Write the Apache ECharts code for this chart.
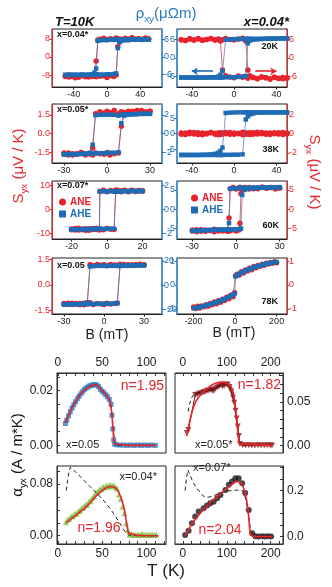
<!DOCTYPE html>
<html>
<head>
<meta charset="utf-8">
<title>ANE / AHE loops and alpha_yx(T)</title>
<script src="https://cdn.jsdelivr.net/npm/echarts@6.0.0/dist/echarts.min.js"></script>
<style>
  html, body { margin: 0; padding: 0; background: #fff; }
  #chart { width: 332px; height: 587px; }
</style>
</head>
<body>
<div id="chart"></div>
<script>
// ---------- hysteresis loops, B in mT ----------
// "down" = sweep coming from +B, "up" = sweep coming from -B
// S = Syx (uV/K, red), rho = rho_xy (uOhm m, blue)

// field grid shared by 10K x=0.04*, 20K and 38K
const field50 = [-50,-46,-42,-38,-34,-30,-26,-22,-18,-15,-13,-11,-8,-4,0,4,8,11,13,15,18,22,26,30,34,38,42,46,50];

// T=10K, x=0.04*
const rhoDownA = [-6.2,-6.2,-6.2,-6.2,-6.2,-6.2,-6.2,-6.1,-6.0,-5.4,-4.0,5.6,5.8,5.9,5.9,6.0,6.0,6.0,6.0,6.0,6.0,6.0,6.1,6.1,6.1,6.1,6.1,6.1,6.1];
const rhoUpA = [-6.2,-6.2,-6.2,-6.2,-6.2,-6.2,-6.2,-6.2,-6.2,-6.2,-6.2,-6.1,-6.1,-6.1,-6.0,-6.0,-5.9,-5.7,3.1,5.2,5.7,5.8,5.9,6.0,6.0,6.0,6.1,6.1,6.1];
const sDownA = [-8.3,-8.9,-8.1,-9.2,-8.4,-8.0,-8.8,-8.2,-8.6,-8.0,-1.8,7.5,7.9,8.3,7.6,8.1,7.7,8.4,7.8,8.0,7.5,8.2,7.9,8.5,7.7,8.1,7.8,8.3,7.9];
const sUpA = [-8.6,-8.0,-8.7,-8.3,-9.0,-8.2,-8.5,-8.9,-8.1,-8.4,-8.8,-8.0,-8.5,-8.3,-9.1,-8.2,-8.6,-8.0,4.5,6.6,7.8,8.2,7.6,8.4,7.9,8.1,7.7,8.3,8.0];

// 20K, x=0.04* (ANE sign reversed)
const rhoDownB = [-6.4,-6.4,-6.4,-6.4,-6.4,-6.4,-6.4,-6.3,-6.3,-6.1,-5.5,-4.3,6.0,6.1,6.2,6.2,6.2,6.3,6.3,6.3,6.3,6.3,6.3,6.3,6.4,6.4,6.4,6.4,6.4];
const rhoUpB = [-6.4,-6.4,-6.4,-6.4,-6.4,-6.4,-6.4,-6.4,-6.4,-6.4,-6.4,-6.4,-6.3,-6.3,-6.3,-6.2,-6.1,-5.9,4.8,5.7,6.0,6.1,6.2,6.3,6.3,6.3,6.4,6.4,6.4];
const sDownB = [6.0,5.7,6.3,5.9,6.2,5.8,6.1,6.4,5.9,6.1,5.6,-3.9,-5.8,-6.2,-6.5,-5.9,-6.3,-6.1,-6.6,-6.0,-6.4,-6.8,-6.2,-6.5,-6.9,-6.3,-6.7,-6.4,-6.6];
const sUpB = [6.0,5.7,6.2,5.9,6.4,5.8,6.1,6.3,5.9,6.2,5.8,6.0,6.4,6.1,5.9,6.2,6.5,5.6,-3.9,-5.9,-6.4,-6.7,-6.2,-6.5,-6.9,-6.3,-6.6,-6.8,-6.5];

// 10K, x=0.05*
const fieldC = [-30,-27,-24,-21,-18,-15,-12,-10,-8,-5,-2,0,2,5,8,10,12,15,18,21,24,27,30];
const rhoDownC = [-2.25,-2.2,-2.2,-2.2,-2.15,-2.15,-2.05,-1.2,1.95,2.0,2.0,2.0,2.0,2.0,1.9,2.0,2.05,2.05,2.05,2.1,2.1,2.1,2.1];
const rhoUpC = [-2.25,-2.2,-2.2,-2.2,-2.2,-2.15,-2.15,-2.15,-2.1,-2.1,-2.1,-2.1,-2.05,-2.05,-2.0,1.1,1.9,2.0,2.05,2.05,2.1,2.1,2.1];
const sDownC = [-1.55,-1.7,-1.6,-1.65,-1.5,-1.7,-1.6,-1.15,1.6,1.75,1.65,1.8,1.7,1.85,1.6,1.75,1.7,1.8,1.65,1.85,1.75,1.7,1.8];
const sUpC = [-1.65,-1.55,-1.7,-1.6,-1.5,-1.65,-1.6,-1.7,-1.55,-1.6,-1.65,-1.5,-1.7,-1.6,-1.55,0.6,1.65,1.75,1.8,1.7,1.85,1.75,1.8];

// 38K
const rhoDownD = [-6.9,-6.9,-6.9,-6.9,-6.9,-6.85,-6.8,-6.7,-6.5,-6.2,-5.6,-4.5,6.7,6.8,6.85,6.9,6.9,6.9,6.9,6.9,6.9,6.9,6.9,6.9,6.9,6.9,6.9,6.9,6.9];
const rhoUpD = [-6.9,-6.9,-6.9,-6.9,-6.9,-6.9,-6.9,-6.9,-6.9,-6.9,-6.9,-6.9,-6.85,-6.85,-6.8,-6.8,-6.7,4.6,5.6,6.2,6.5,6.8,6.85,6.9,6.9,6.9,6.9,6.9,6.9];
const sDownD = [0.05,-0.1,0.12,-0.05,0.08,-0.12,0.02,0.1,-0.08,0.04,-0.1,0.06,-0.03,0.11,-0.07,0.03,-0.12,0.09,-0.04,0.07,-0.09,0.12,-0.02,0.05,-0.11,0.08,-0.06,0.1,-0.04];
const sUpD = [-0.08,0.06,-0.03,0.11,-0.1,0.04,-0.06,0.09,0.02,-0.12,0.07,-0.04,0.1,-0.09,0.05,-0.02,0.12,-0.07,0.03,-0.1,0.08,-0.05,0.11,-0.08,0.04,-0.03,0.09,-0.11,0.06];

// 10K, x=0.07*
const fieldE = [-20,-18,-16,-14,-12,-10,-8,-6,-4.3,-4,-2,0,2,4,4.9,6,8,10,12,14,16,18,20];
const rhoDownE = [-1.65,-1.65,-1.64,-1.64,-1.63,-1.63,-1.62,-1.62,-1.6,1.48,1.49,1.5,1.5,1.5,1.5,1.5,1.51,1.51,1.51,1.52,1.52,1.52,1.52];
const rhoUpE = [-1.65,-1.65,-1.64,-1.64,-1.63,-1.63,-1.63,-1.62,-1.62,-1.62,-1.61,-1.61,-1.6,-1.6,1.48,1.5,1.5,1.51,1.51,1.52,1.52,1.52,1.52];
const sDownE = [-8.2,-8.6,-7.9,-8.5,-8.1,-8.7,-8.0,-8.4,-8.3,7.4,7.9,7.3,7.8,7.5,8.0,7.4,7.7,7.9,7.3,7.8,7.5,7.7,7.6];
const sUpE = [-8.5,-8.0,-8.6,-8.2,-8.7,-8.1,-8.4,-7.9,-8.6,-8.2,-8.5,-8.0,-8.3,-8.4,7.6,7.9,7.3,7.8,7.5,7.9,7.4,7.8,7.6];

// 60K
const fieldF = [-30,-27,-24,-21,-18,-15,-12,-9,-6,-4.8,-4,-2,0,2,2.7,3.4,4.3,6,9,12,15,18,21,24,27,30];
const rhoDownF = [-5.6,-5.5,-5.4,-5.4,-5.35,-5.3,-5.3,-5.25,-5.2,-3.6,5.3,5.4,5.45,5.5,5.5,5.5,5.5,5.55,5.55,5.6,5.6,5.6,5.6,5.65,5.65,5.7];
const rhoUpF = [-5.6,-5.55,-5.5,-5.45,-5.4,-5.4,-5.35,-5.3,-5.3,-5.25,-5.25,-5.2,-5.2,-5.15,-5.1,-5.0,3.7,5.0,5.3,5.4,5.5,5.55,5.6,5.6,5.65,5.7];
const sDownF = [-5.4,-5.8,-5.3,-5.7,-5.5,-5.2,-5.6,-5.4,-5.7,-2.3,5.3,5.6,5.2,5.5,5.7,5.3,5.4,5.6,5.2,5.5,5.3,5.7,5.4,5.6,5.3,5.5];
const sUpF = [-5.6,-5.3,-5.7,-5.4,-5.5,-5.8,-5.3,-5.6,-5.4,-5.7,-5.5,-5.3,-5.6,-5.4,-3.6,4.0,5.0,5.4,5.6,5.3,5.5,5.7,5.4,5.6,5.3,5.5];

// 10K, x=0.05
const fieldG = [-30,-27,-24,-21,-18,-15,-12.5,-10.5,-8,-5,-2,0,2,5,8,10,12,15,18,21,24,27,30];
const rhoDownG = [-16,-16,-15.8,-15.8,-15.8,-15.6,-14.5,15.5,15.8,16,16,16,16,16,16,16.2,16.2,16.2,16.4,16.4,16.4,16.5,16.5];
const rhoUpG = [-16,-16,-15.9,-15.8,-15.8,-15.8,-15.7,-15.7,-15.6,-15.6,-15.5,-15.5,-15.5,-15.4,-15.3,-15.0,15.8,16,16.2,16.3,16.4,16.5,16.5];
const sDownG = [-1.1,-1.16,-1.08,-1.14,-1.1,-1.17,-1.05,1.2,1.15,1.22,1.17,1.2,1.14,1.21,1.18,1.16,1.23,1.17,1.2,1.15,1.22,1.18,1.2];
const sUpG = [-1.14,-1.08,-1.15,-1.1,-1.17,-1.09,-1.13,-1.06,-1.15,-1.1,-1.12,-1.16,-1.08,-1.13,-1.1,-1.07,1.18,1.22,1.15,1.2,1.17,1.23,1.19];

// 78K
const fieldH = [-200,-190,-180,-170,-160,-150,-140,-130,-120,-110,-100,-90,-80,-70,-60,-50,-40,-30,-20,-10,-2,2,10,20,30,40,50,60,70,80,90,100,110,120,130,140,150,160,170,180,190,200];
const rhoH = [-0.98,-0.965,-0.95,-0.93,-0.91,-0.885,-0.86,-0.835,-0.81,-0.785,-0.76,-0.73,-0.70,-0.665,-0.63,-0.595,-0.555,-0.51,-0.465,-0.41,-0.36,0.36,0.41,0.465,0.51,0.555,0.595,0.63,0.665,0.70,0.73,0.76,0.785,0.81,0.835,0.86,0.885,0.905,0.92,0.935,0.95,0.96];
const sH = [-0.93,-0.99,-0.9,-0.97,-0.88,-0.92,-0.83,-0.9,-0.78,-0.83,-0.72,-0.79,-0.66,-0.73,-0.6,-0.65,-0.52,-0.58,-0.43,-0.5,-0.33,0.38,0.45,0.42,0.55,0.5,0.63,0.58,0.7,0.64,0.77,0.72,0.82,0.78,0.87,0.83,0.91,0.88,0.94,0.91,0.97,0.93];

// ---------- alpha_yx(T), A/(m K) ----------
// x=0.05 (blue squares)
const tempI = [8.5,10,12,14,16,18,20,22,24,26,28,30,32,34,36,38,40,42,44,46,48,50,52,54,56,58,60,61,62,63,64,66,70,74,78,82,86,90,94,98,102,106,110];
const alphaI = [0.0080,0.0092,0.0108,0.0123,0.0137,0.0149,0.0160,0.0171,0.0180,0.0189,0.0197,0.0205,0.0210,0.0214,0.0218,0.0220,0.0222,0.0222,0.0221,0.0215,0.0205,0.0198,0.0192,0.0185,0.0178,0.0168,0.0150,0.0110,0.0060,0.0020,0.0005,0.0002,0.0001,0.0001,0,0.0001,0,0.0001,0,0.0001,0,0.0001,0];
const fitTempI = [8.5,12,16,20,25,30,35,40,44,48,52,56,59,61,62,63,64,66,80,95,110];
const fitI = [0.0082,0.0110,0.0138,0.0161,0.0185,0.0203,0.0215,0.0221,0.0221,0.0208,0.0194,0.0179,0.0160,0.0115,0.0065,0.0025,0.0005,0,0,0,0];
const dashTempI = [8.5,12,16,20,25,30,35,40,45,50,55,58,60,62,64,66,80,95,110];
const dashI = [0.0085,0.0112,0.014,0.0163,0.0187,0.0204,0.0216,0.0222,0.0219,0.0203,0.0184,0.017,0.0152,0.008,0.001,0,0,0,0];

// x=0.05* (dark red triangles)
const tempJ = [9,12.5,28,33,38,43,47,51,55,59,63,67,70,74,78,82,86,90,94,98,102,106,110,114,117,120,122.5,125,127.5,130,136,143,150,157,164,171,178,185,192,199,203];
const alphaJ = [0.0145,0.018,0.058,0.0585,0.0596,0.060,0.061,0.0615,0.0626,0.063,0.064,0.063,0.0626,0.065,0.0665,0.0675,0.0695,0.068,0.0685,0.070,0.0695,0.067,0.062,0.055,0.049,0.040,0.031,0.022,0.011,0.002,0.0005,0.0003,0.0004,0.0002,0.0003,0.0004,0.0002,0.0003,0.0004,0.0002,0.0003];
const fitTempJ = [8,12,16,20,24,30,40,50,60,70,80,89,97,104,110,114,117,120,123,126,128,131,203];
const fitJ = [0.011,0.02,0.029,0.037,0.044,0.051,0.058,0.063,0.067,0.0705,0.0722,0.0727,0.072,0.070,0.067,0.062,0.054,0.042,0.027,0.011,0.002,0,0];
const dashTempJ = [12,15,19,24,30,40,50,60,70,80,90,100,108,114,118,122,125,128,131,140,203];
const dashJ = [0.039,0.047,0.054,0.058,0.060,0.061,0.0625,0.064,0.0655,0.068,0.0705,0.0705,0.067,0.058,0.047,0.032,0.02,0.006,0.001,0,0];

// x=0.04* (green triangles)
const tempK = [9,11,13,15,17,19,21,23,25,27,29,31,33,35,37,39,41,43,45,47,49,51,53,55,57,59,61,63,65,67,69,71,73,75,77,79,81,83,85,87,89,91,93,95,97,99,101,103,105,107,109,111];
const alphaK = [0.021,0.025,0.026,0.030,0.030,0.034,0.034,0.038,0.039,0.043,0.044,0.048,0.048,0.053,0.054,0.059,0.061,0.067,0.068,0.072,0.072,0.076,0.075,0.078,0.076,0.079,0.077,0.078,0.075,0.073,0.064,0.057,0.045,0.035,0.019,0.009,0.002,0.003,0.001,0.002,0.001,0.002,0.001,0.003,0.001,0.002,0.001,0.002,0.001,0.002,0.001,0.002];
const fitTempK = [9.4,15,20,25,30,35,40,45,50,55,58,62,65,68,71,74,76,78,79.5,81,90,100,113];
const fitK = [0.020,0.026,0.031,0.037,0.042,0.049,0.057,0.064,0.070,0.0745,0.0762,0.0758,0.074,0.069,0.060,0.047,0.033,0.016,0.004,0.001,0.0005,0,0];
const dashTempK = [9.5,11,12.5,14,16,20,25,30,35,40,45,50,55,60,65,70,74,77,80,90,113];
const dashK = [0.070,0.086,0.099,0.106,0.104,0.099,0.092,0.085,0.078,0.071,0.064,0.057,0.049,0.040,0.030,0.019,0.010,0.004,0.001,0,0];

// x=0.07* (black circles)
const tempL = [5,13,20.5,28,36,47,55,62.5,70,78,85.5,97,104.5,112,119.5,127,135,142,150,158,165,172,180,187,194,201];
const alphaL = [0.007,0.026,0.058,0.087,0.109,0.123,0.135,0.145,0.152,0.167,0.181,0.203,0.225,0.24,0.254,0.254,0.232,0.19,0.116,0.015,0.002,0.001,0.002,0.001,0.002,0.001];
const fitTempL = [5,10,15,20,30,40,50,60,70,80,90,100,110,118,124,130,136,141,145,148,150,152,154,156,165,203];
const fitL = [0.005,0.022,0.038,0.053,0.08,0.103,0.124,0.143,0.16,0.177,0.194,0.21,0.225,0.236,0.24,0.236,0.222,0.195,0.16,0.12,0.08,0.035,0.006,0.001,0,0];
const dashTempL = [5,8,11,13,16,20,25,32,40,45,52,60,70,80,90,100,110,120,130,137,142,147,151,155,158,165,203];
const dashL = [0.2,0.25,0.29,0.29,0.27,0.25,0.23,0.21,0.19,0.178,0.172,0.172,0.178,0.186,0.193,0.198,0.2,0.202,0.203,0.198,0.17,0.125,0.07,0.02,0.003,0,0];

// ---------- tick labels ----------
const ticksB40 = [-40, 0, 40], ticksB30 = [-30, 0, 30], ticksB20 = [-20, 0, 20], ticksB200 = [-200, 0, 200];
const ticksS8 = [-8, 0, 8], ticksS6 = [-6, 0, 6], ticksS15 = [-1.5, 0, 1.5], ticksS2 = [-2, 0, 2], ticksS10 = [-10, 0, 10], ticksS5 = [-5, 0, 5], ticksS1 = [-1, 0, 1];
const ticksRho6 = [-6, 0, 6], ticksRho2 = [-2, 0, 2], ticksRho5 = [-5, 0, 5], ticksRho20 = [-20, 0, 20], ticksRho1 = [-1, 0, 1];
const tempLabelsL = [0, 50, 100], tempTicksL = [0,10,20,30,40,50,60,70,80,90,100,110,120];
const tempLabelsR = [0, 100, 200], tempTicksR = [0,20,40,60,80,100,120,140,160,180,200,220];
const alphaLabelsI = [0, 0.02], alphaTicksI = [0,0.005,0.01,0.015,0.02,0.025];
const alphaLabelsJ = [0, 0.05], alphaTicksJ = [0,0.01,0.02,0.03,0.04,0.05,0.06,0.07,0.08];
const alphaLabelsK = [0, 0.08], alphaTicksK = [0,0.02,0.04,0.06,0.08,0.1];
const alphaLabelsL = [0, 0.2], alphaTicksL = [0,0.05,0.1,0.15,0.2,0.25,0.3];

const RED = '#e8232b', BLUE = '#1d6cb5', BLUE_LN = '#4a6cb8', BLUE_AX = '#4a94d6';
const FONT = '"Liberation Sans", Arial, sans-serif';

const zip = (xs, ys) => xs.map((x, i) => [x, ys[i]]);

// loop panels: A B / C D / E F / G H (left column: red axis on the left)
const loops = [
  { x: [-66, 66],     xt: ticksB40,  s: [-13.3, 12.4], st: ticksS8,  rho: [-10.4, 9.7], rt: ticksRho6 },
  { x: [-54, 50],     xt: ticksB40,  s: [-9.5, 9.5],   st: ticksS6,  rho: [-9.5, 9.5],  rt: ticksRho6 },
  { x: [-38.4, 38.4], xt: ticksB30,  s: [-2.34, 2.37], st: ticksS15, rho: [-3.15, 3.15], rt: ticksRho2, sd: 1 },
  { x: [-54, 50],     xt: ticksB40,  s: [-3.05, 3.05], st: ticksS2,  rho: [-9.5, 9.6],  rt: ticksRho5 },
  { x: [-31, 31],     xt: ticksB20,  s: [-12.3, 11.7], st: ticksS10, rho: [-2.45, 2.35], rt: ticksRho2 },
  { x: [-40.5, 35],   xt: ticksB30,  s: [-7.7, 7.3],   st: ticksS5,  rho: [-7.7, 7.3],  rt: ticksRho5 },
  { x: [-39, 43.5],   xt: ticksB30,  s: [-1.72, 1.6],  st: ticksS15, rho: [-24, 22.5],  rt: ticksRho20, sd: 1 },
  { x: [-280, 250],   xt: ticksB200, s: [-1.22, 1.13], st: ticksS1,  rho: [-1.22, 1.13], rt: ticksRho1 }
];

const grids = [];
[[29, 58], [104, 59], [181, 58], [258, 56]].forEach(([t, h]) => {
  grids.push({ left: 52, top: t, width: 110, height: h });
  grids.push({ left: 177, top: t, width: 110, height: h });
});
grids.push({ left: 57, top: 373, width: 109, height: 80 });
grids.push({ left: 175, top: 373, width: 108, height: 80 });
grids.push({ left: 57, top: 466, width: 109, height: 78 });
grids.push({ left: 175, top: 466, width: 108, height: 78 });
grids.forEach(g => Object.assign(g, { show: true, borderColor: '#222', borderWidth: 1, containLabel: false }));

const xAxes = [], yAxes = [];

function loopYAxis(g, pos, range, ticks, color, lineColor, lineWidth, dec) {
  return {
    type: 'value', gridIndex: g, position: pos, min: range[0], max: range[1],
    axisLine: { show: true, onZero: false, lineStyle: { color: lineColor, width: lineWidth } },
    axisTick: { show: true, length: 2.5, customValues: ticks, lineStyle: { color } },
    axisLabel: { customValues: ticks, fontSize: 9, color, margin: 2, fontFamily: FONT,
      formatter: v => v.toFixed(dec) },
    splitLine: { show: false }
  };
}

loops.forEach((p, k) => {
  xAxes.push({
    type: 'value', gridIndex: k, position: 'bottom', min: p.x[0], max: p.x[1],
    axisLine: { show: true, onZero: false, lineStyle: { color: '#222', width: 1 } },
    axisTick: { show: true, length: 2.5, customValues: p.xt, lineStyle: { color: '#222' } },
    axisLabel: { customValues: p.xt, fontSize: 9, color: '#222', margin: 3, fontFamily: FONT },
    splitLine: { show: false }
  });
  const leftRed = k % 2 === 0;
  const sAx = loopYAxis(k, leftRed ? 'left' : 'right', p.s, p.st, RED, RED, 1, p.sd || 0);
  const rAx = loopYAxis(k, leftRed ? 'right' : 'left', p.rho, p.rt, BLUE, BLUE_AX, 1.6, 0);
  if (leftRed) yAxes.push(sAx, rAx); else yAxes.push(rAx, sAx);
});

const sAxisOf = k => (k % 2 === 0 ? 2 * k : 2 * k + 1);
const rhoAxisOf = k => (k % 2 === 0 ? 2 * k + 1 : 2 * k);

// alpha panels I J / K L
const alphaPanels = [
  { x: [-1, 122],  xpos: 'top',    xl: tempLabelsL, xt: tempTicksL, y: [-0.0028, 0.0265], ypos: 'left',  yl: alphaLabelsI, yt: alphaTicksI, d: 2 },
  { x: [-18, 228], xpos: 'top',    xl: tempLabelsR, xt: tempTicksR, y: [-0.0084, 0.083],  ypos: 'right', yl: alphaLabelsJ, yt: alphaTicksJ, d: 2 },
  { x: [-1, 122],  xpos: 'bottom', xl: tempLabelsL, xt: tempTicksL, y: [-0.0128, 0.108],  ypos: 'left',  yl: alphaLabelsK, yt: alphaTicksK, d: 2 },
  { x: [-18, 228], xpos: 'bottom', xl: tempLabelsR, xt: tempTicksR, y: [-0.032, 0.307],   ypos: 'right', yl: alphaLabelsL, yt: alphaTicksL, d: 1 }
];
alphaPanels.forEach((p, i) => {
  const g = 8 + i;
  xAxes.push({
    type: 'value', gridIndex: g, position: p.xpos, min: p.x[0], max: p.x[1],
    axisLine: { show: true, onZero: false, lineStyle: { color: '#333' } },
    axisTick: { show: true, inside: true, length: 3, customValues: p.xt, lineStyle: { color: '#333' } },
    axisLabel: { customValues: p.xl, fontSize: 12, color: '#222', margin: 4, fontFamily: FONT },
    splitLine: { show: false }
  });
  yAxes.push({
    type: 'value', gridIndex: g, position: p.ypos, min: p.y[0], max: p.y[1],
    axisLine: { show: true, onZero: false, lineStyle: { color: '#333' } },
    axisTick: { show: true, inside: true, length: 3, customValues: p.yt, lineStyle: { color: '#333' } },
    axisLabel: { customValues: p.yl, fontSize: 12, color: '#222', margin: 4, fontFamily: FONT,
      formatter: v => v.toFixed(p.d) },
    splitLine: { show: false }
  });
});

// ---------- series ----------
const series = [];
function sLine(k, xs, ys) {
  return { name: 'ANE', type: 'line', xAxisIndex: k, yAxisIndex: sAxisOf(k), data: zip(xs, ys),
    symbol: 'circle', symbolSize: 5.5, lineStyle: { width: 0.7, color: RED },
    itemStyle: { color: RED }, z: 2, silent: true };
}
function rhoLine(k, xs, ys) {
  return { name: 'AHE', type: 'line', xAxisIndex: k, yAxisIndex: rhoAxisOf(k), data: zip(xs, ys),
    symbol: 'rect', symbolSize: 4.5, lineStyle: { width: 0.7, color: BLUE_LN },
    itemStyle: { color: BLUE }, z: 3, silent: true };
}
function addLoop(k, xs, sDown, sUp, rDown, rUp) {
  series.push(sLine(k, xs, sDown), sLine(k, xs, sUp), rhoLine(k, xs, rDown), rhoLine(k, xs, rUp));
}
addLoop(0, field50, sDownA, sUpA, rhoDownA, rhoUpA);
addLoop(1, field50, sDownB, sUpB, rhoDownB, rhoUpB);
addLoop(2, fieldC, sDownC, sUpC, rhoDownC, rhoUpC);
addLoop(3, field50, sDownD, sUpD, rhoDownD, rhoUpD);
addLoop(4, fieldE, sDownE, sUpE, rhoDownE, rhoUpE);
addLoop(5, fieldF, sDownF, sUpF, rhoDownF, rhoUpF);
addLoop(6, fieldG, sDownG, sUpG, rhoDownG, rhoUpG);
series.push(sLine(7, fieldH, sH), rhoLine(7, fieldH, rhoH));

// sweep-direction arrows in the 20K panel
const arrow = color => ({ silent: true, symbol: ['none', 'arrow'], symbolSize: 6, animation: false,
  label: { show: false }, lineStyle: { color, width: 1.6, type: 'solid' } });
series[4 + 2].markLine = Object.assign(arrow(BLUE), { data: [[{ coord: [-20, -4.3] }, { coord: [-40, -4.3] }]] });
series[4].markLine = Object.assign(arrow(RED), { data: [[{ coord: [20, -4.3] }, { coord: [40, -4.3] }]] });

function pts(g, xs, ys, symbol, size, color, rotate) {
  return { type: 'scatter', xAxisIndex: g, yAxisIndex: g + 8, data: zip(xs, ys), symbol,
    symbolSize: size, symbolRotate: rotate || 0, itemStyle: { color }, silent: true, z: 2 };
}
function curve(g, xs, ys, color, width, dashed) {
  return { type: 'line', xAxisIndex: g, yAxisIndex: g + 8, data: zip(xs, ys), symbol: 'none',
    lineStyle: { color, width, type: dashed ? [4, 3] : 'solid' }, silent: true, z: dashed ? 3 : 4 };
}
series.push(pts(8, tempI, alphaI, 'rect', 5, '#2a7cc2'),
  curve(8, dashTempI, dashI, '#222', 1, true), curve(8, fitTempI, fitI, RED, 1.6));
series.push(curve(9, tempJ, alphaJ, '#6e1414', 1),
  pts(9, tempJ, alphaJ, 'triangle', 6, '#8c1b1b', 180),
  curve(9, dashTempJ, dashJ, '#222', 1, true), curve(9, fitTempJ, fitJ, RED, 1.6));
series.push(pts(10, tempK, alphaK, 'triangle', 6, '#7dc242'),
  curve(10, dashTempK, dashK, '#222', 1, true), curve(10, fitTempK, fitK, RED, 1.6));
series.push(pts(11, tempL, alphaL, 'circle', 6, '#1a1a1a'),
  curve(11, dashTempL, dashL, '#222', 1, true), curve(11, fitTempL, fitL, RED, 1.6));

// ---------- legends (ANE / AHE) ----------
const legendData = [
  { name: 'ANE', icon: 'circle', textStyle: { color: RED } },
  { name: 'AHE', icon: 'rect', textStyle: { color: BLUE } }
];
const legendBase = { orient: 'vertical', selectedMode: false, itemWidth: 7, itemHeight: 7, itemGap: 0,
  padding: 0, data: legendData,
  textStyle: { fontSize: 10, fontWeight: 'bold', fontFamily: FONT, lineHeight: 12, padding: [0, 0, 0, -1] } };
const legends = [
  Object.assign({}, legendBase, { left: 59, top: 196 }),
  Object.assign({}, legendBase, { left: 191, top: 192 })
];

// ---------- texts ----------
function txt(x, y, text, font, fill, align, extra) {
  return Object.assign({ type: 'text', x, y, silent: true,
    style: { text, font, fill, textAlign: align || 'left', textVerticalAlign: 'middle',
      align: align || 'left', verticalAlign: 'middle' } }, extra || {});
}
function richTitle(x, y, text, color, size, rot) {
  return { type: 'text', x, y, rotation: rot, silent: true,
    style: { text, fill: color, textAlign: 'center', textVerticalAlign: 'middle', align: 'center', verticalAlign: 'middle',
      font: size + 'px ' + FONT,
      rich: {
        a: { fontSize: size, fontFamily: FONT, fill: color, lineHeight: 20 },
        s: { fontSize: size * 0.66, fontFamily: FONT, fill: color, lineHeight: 10, verticalAlign: 'bottom' }
      } } };
}
const small = 'bold 9px ' + FONT;
const graphic = [
  txt(55, 22, 'T=10K', 'italic bold 13px ' + FONT, '#111'),
  txt(289, 22, 'x=0.04*', 'italic bold 13px ' + FONT, '#111', 'right'),
  richTitle(166, 14, '{a|ρ}{s|xy}{a|(μΩm)}', '#2a78c0', 15, 0),
  richTitle(19, 166, '{a|S}{s|yx}{a| (μV / K)}', RED, 15, Math.PI / 2),
  richTitle(314, 172, '{a|S}{s|yx}{a| (μV / K)}', RED, 15, -Math.PI / 2),
  txt(107, 335, 'B (mT)', '14px ' + FONT, '#222', 'center'),
  txt(234, 333, 'B (mT)', '14px ' + FONT, '#222', 'center'),
  richTitle(18, 455, '{a|α}{s|yx}{a| (A / m*K)}', '#111', 15, Math.PI / 2),
  txt(166, 571, 'T (K)', '17px ' + FONT, '#222', 'center'),
  txt(57, 35, 'x=0.04*', small, '#111'),
  txt(57, 110, 'x=0.05*', small, '#111'),
  txt(57, 186, 'x=0.07*', small, '#111'),
  txt(57, 266, 'x=0.05', small, '#111'),
  txt(278, 47, '20K', small, '#111', 'right'),
  txt(279, 150, '38K', small, '#111', 'right'),
  txt(279, 226, '60K', small, '#111', 'right'),
  txt(278, 302, '78K', small, '#111', 'right'),
  txt(164, 386, 'n=1.95', '14px ' + FONT, RED, 'right'),
  txt(66, 445, 'x=0.05', '11px ' + FONT, '#222'),
  txt(281, 385, 'n=1.82', '14px ' + FONT, RED, 'right'),
  txt(195, 445, 'x=0.05*', '11px ' + FONT, '#222'),
  txt(157, 477, 'x=0.04*', '11px ' + FONT, '#222', 'right'),
  txt(99, 528, 'n=1.96', '14px ' + FONT, RED, 'center'),
  txt(193, 468, 'x=0.07*', '11px ' + FONT, '#222'),
  txt(220, 530, 'n=2.04', '14px ' + FONT, RED, 'center')
];

const chart = echarts.init(document.getElementById('chart'));
chart.setOption({
  animation: false,
  textStyle: { fontFamily: FONT },
  grid: grids,
  xAxis: xAxes,
  yAxis: yAxes,
  legend: legends,
  series,
  graphic
});
</script>
</body>
</html>
